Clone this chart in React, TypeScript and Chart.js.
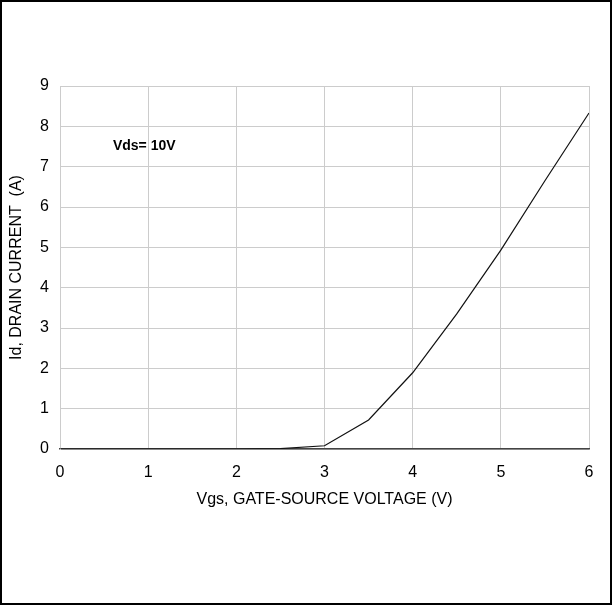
import React, { useEffect, useRef } from "react";
import { Chart, registerables } from "chart.js";

Chart.register(...registerables);

const vgs = [0, 0.5, 1, 1.5, 2, 2.5, 3, 3.5, 4, 4.5, 5, 5.5, 6];
const idCurrent = [0, 0, 0, 0, 0, 0.01, 0.08, 0.72, 1.89, 3.35, 4.93, 6.65, 8.33];
const xTitle = "Vgs, GATE-SOURCE VOLTAGE (V)";
const yTitle = "Id, DRAIN CURRENT  (A)";
const noteText = "Vds= 10V";
const noteAt = { x: 0.6, y: 7.5 };

const FONT = "'Liberation Sans', Arial, Helvetica, sans-serif";

export default function App() {
  const ref = useRef<HTMLCanvasElement | null>(null);
  useEffect(() => {
    if (!ref.current) return;
    const framePlugin = {
      id: "frame",
      afterDraw(chart: any) {
        const ctx = chart.ctx;
        ctx.save();
        ctx.strokeStyle = "#000";
        ctx.lineWidth = 2;
        ctx.strokeRect(1, 1, chart.width - 2, chart.height - 2);
        const xs = chart.scales.x;
        const ys = chart.scales.y;
        ctx.fillStyle = "#000";
        ctx.font = `bold 14px ${FONT}`;
        ctx.textAlign = "left";
        ctx.textBaseline = "middle";
        ctx.fillText(noteText, xs.getPixelForValue(noteAt.x), ys.getPixelForValue(noteAt.y));
        ctx.restore();
      },
    };
    const chart = new Chart(ref.current, {
      type: "line",
      data: {
        datasets: [
          {
            data: vgs.map((v, i) => ({ x: v, y: idCurrent[i] })),
            borderColor: "#111",
            borderWidth: 1.2,
            pointRadius: 0,
            tension: 0,
            fill: false,
          },
        ],
      },
      options: {
        animation: false,
        responsive: false,
        layout: { padding: { top: 86, right: 23, bottom: 96, left: 0 } },
        plugins: { legend: { display: false }, tooltip: { enabled: false } },
        scales: {
          x: {
            type: "linear",
            min: 0,
            max: 6,
            ticks: { stepSize: 1, color: "#000", padding: 14, font: { family: FONT, size: 16 } },
            grid: { color: "#cccccc", drawTicks: false },
            border: { color: "#444", width: 1.5 },
            title: {
              display: true,
              text: xTitle,
              color: "#000",
              font: { family: FONT, size: 16 },
              padding: { top: 0, bottom: 0 },
            },
            afterFit(scale: any) {
              scale.height = 60;
            },
          },
          y: {
            min: 0,
            max: 9,
            ticks: { stepSize: 1, color: "#000", padding: 11, font: { family: FONT, size: 16 } },
            grid: { color: "#cccccc", drawTicks: false },
            border: { color: "#cccccc", width: 1 },
            title: {
              display: true,
              text: yTitle,
              color: "#000",
              font: { family: FONT, size: 16 },
              padding: { top: 7, bottom: 0 },
            },
            afterFit(scale: any) {
              scale.width = 60;
            },
          },
        },
      },
      plugins: [framePlugin],
    });
    return () => chart.destroy();
  }, []);
  return (
    <div style={{ position: "absolute", left: 0, top: 0, width: 612, height: 605, background: "#fff" }}>
      <canvas ref={ref} width={612} height={605} style={{ display: "block" }} />
    </div>
  );
}
